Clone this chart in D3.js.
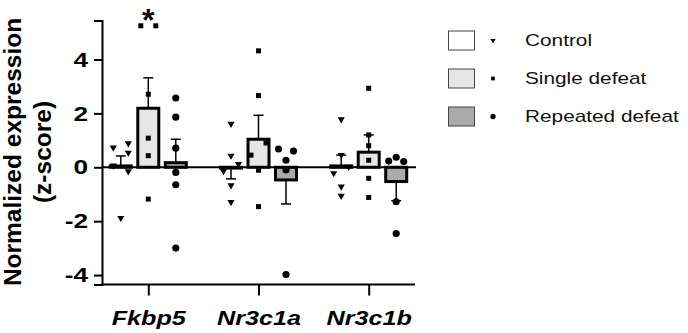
<!DOCTYPE html>
<html>
<head>
<meta charset="utf-8">
<script src="https://cdn.jsdelivr.net/npm/d3@7"></script>
<style>
  body { margin: 0; background: #fff; }
  text { font-family: "Liberation Sans", Arial, Helvetica, sans-serif; }
</style>
</head>
<body>
<svg id="chart" width="688" height="333"></svg>
<script>
// genes on the x axis and the three groups
const genes = ["Fkbp5", "Nr3c1a", "Nr3c1b"];
const groups = ["Control", "Single defeat", "Repeated defeat"];

// bar means (z-score), one row per gene, in group order
const means = [
    [0.05, 2.19, 0.17],
    [-0.03, 1.04, -0.47],
    [0.05, 0.56, -0.53]
];
// SEM for each bar
const sems = [
    [0.37, 1.13, 0.87],
    [0.40, 0.89, 0.89],
    [0.40, 0.64, 0.71]
];

// individual animals, [gene][group] -> values
const points = [
    [
        [0.89, 0.73, 0.54, 0.06, -0.15, -1.88],
        [5.25, 5.25, 2.71, 1.08, 0.43, -1.18],
        [2.57, 1.86, 0.71, -0.19, -0.65, -3.0]
    ],
    [
        [1.61, 0.43, 0.12, -0.14, -0.67, -1.29],
        [4.32, 2.66, 0.90, 0.45, -0.11, -1.46],
        [0.68, 0.60, 0.26, -0.10, -3.98]
    ],
    [
        [1.78, 0.45, 0.02, -0.22, -0.72, -1.06],
        [2.93, 1.20, 0.80, 0.26, -0.41, -1.12],
        [0.23, 0.37, 0.21, -1.28, -2.46]
    ]
];
// scatter column of each animal (-1 left, 0 middle, 1 right)
const slots = [
    [[1, -1, 1, -1, 1, 0], [-1, 1, 0, 0, 0, 0], [0, 0, 0, 0, 0, 0]],
    [[0, 0, 1, -1, 0, 0], [0, 0, 1, -1, 0, 0], [-1, 1, 0, 0, 0]],
    [[0, 0, 1, -1, 0, 0], [0, 0, 0, 0, 0, 0], [-1, 0, 1, 0, 0]]
];

// significance marks
const signif = [{ gene: "Fkbp5", group: "Single defeat", label: "*" }];

const yTicks = [-4, -2, 0, 2, 4];

const fills = ["#ffffff", "#e6e6e6", "#aaaaaa"];
const symbols = [d3.symbolTriangle, d3.symbolSquare, d3.symbolCircle];
const symbolSize = [22, 25, 40];
const legendSize = [12, 14, 22];

const svg = d3.select("#chart");

// scales
const x = d3.scalePoint().domain(genes).range([102, 415]).padding(0.42);
const xg = d3.scalePoint().domain(groups).range([-27.5, 27.5]);
const xj = d3.scaleLinear().domain([-1, 1]).range([-7.5, 7.5]);
const y = d3.scaleLinear().domain([-4.35, 5.45]).range([284.5, 20.4]);
const barW = 21;

// y axis
const yAxis = svg.append("g")
    .attr("transform", "translate(102,0)")
    .call(d3.axisLeft(y).tickValues(yTicks).tickFormat(d => String(d))
        .tickSizeOuter(0).tickSize(8).tickPadding(6));
yAxis.select(".domain").attr("stroke", "#000").attr("stroke-width", 2);
yAxis.selectAll(".tick line").attr("stroke", "#000").attr("stroke-width", 2);
yAxis.selectAll(".tick text")
    .attr("font-size", 21).attr("font-weight", "bold").attr("fill", "#000")
    .attr("transform", "scale(1.25,1)")
    .attr("x", -14 / 1.25);

// x axis
const xAxis = svg.append("g")
    .attr("transform", "translate(0,284.5)")
    .call(d3.axisBottom(x).tickSizeOuter(0).tickSize(11).tickPadding(14));
xAxis.select(".domain").attr("stroke", "#000").attr("stroke-width", 2)
    .attr("d", "M101,0H415");
xAxis.selectAll(".tick line").attr("stroke", "#000").attr("stroke-width", 2);
xAxis.selectAll(".tick text")
    .attr("font-size", 21).attr("font-weight", "bold").attr("font-style", "italic")
    .attr("fill", "#000").attr("dy", "0.72em")
    .attr("transform", "scale(1.2,1)");

// bars
genes.forEach((gene, gi) => {
    const g = svg.append("g");
    groups.forEach((grp, k) => {
        const cx = x(gene) + xg(grp);
        const m = means[gi][k];
        g.append("rect")
            .attr("x", cx - barW / 2)
            .attr("y", Math.min(y(m), y(0)))
            .attr("width", barW)
            .attr("height", Math.abs(y(m) - y(0)))
            .attr("fill", fills[k])
            .attr("stroke", "#000")
            .attr("stroke-width", 3);
    });
});

// zero line
svg.append("line")
    .attr("x1", 102).attr("x2", 416)
    .attr("y1", y(0)).attr("y2", y(0))
    .attr("stroke", "#000").attr("stroke-width", 2.2);

// error bars (one-sided, away from zero)
genes.forEach((gene, gi) => {
    groups.forEach((grp, k) => {
        const cx = x(gene) + xg(grp);
        const m = means[gi][k];
        const tip = m >= 0 ? m + sems[gi][k] : m - sems[gi][k];
        svg.append("line")
            .attr("x1", cx).attr("x2", cx)
            .attr("y1", y(m)).attr("y2", y(tip))
            .attr("stroke", "#000").attr("stroke-width", 1.5);
        svg.append("line")
            .attr("x1", cx - 5).attr("x2", cx + 5)
            .attr("y1", y(tip)).attr("y2", y(tip))
            .attr("stroke", "#000").attr("stroke-width", 1.5);
    });
});

// individual points
genes.forEach((gene, gi) => {
    groups.forEach((grp, k) => {
        const cx = x(gene) + xg(grp);
        points[gi][k].forEach((v, i) => {
            svg.append("path")
                .attr("d", d3.symbol().type(symbols[k]).size(symbolSize[k])())
                .attr("transform", `translate(${cx + xj(slots[gi][k][i])},${y(v)})` + (k === 0 ? " rotate(180)" : ""))
                .attr("fill", "#000");
        });
    });
});

// significance stars
signif.forEach(s => {
    svg.append("text")
        .attr("x", x(s.gene) + xg(s.group))
        .attr("y", 31)
        .attr("text-anchor", "middle")
        .attr("font-size", 32).attr("font-weight", "bold")
        .text(s.label);
});

// y label
const yl = svg.append("text")
    .attr("transform", "translate(0,152) rotate(-90)")
    .attr("text-anchor", "middle")
    .attr("font-size", 24.5).attr("font-weight", "bold");
yl.append("tspan").attr("x", 0).attr("y", 21).text("Normalized expression");
yl.append("tspan").attr("x", 0).attr("y", 51).text("(z-score)");

// legend
const legend = svg.append("g").attr("transform", "translate(448,0)");
groups.forEach((grp, k) => {
    const cy = 40.5 + k * 38;
    legend.append("rect")
        .attr("x", 0.5).attr("y", cy - 9.5)
        .attr("width", 26).attr("height", 19)
        .attr("fill", fills[k])
        .attr("stroke", "#444").attr("stroke-width", 1);
    legend.append("path")
        .attr("d", d3.symbol().type(symbols[k]).size(legendSize[k])())
        .attr("transform", `translate(45,${cy})` + (k === 0 ? " rotate(180)" : ""))
        .attr("fill", "#000");
    legend.append("text")
        .attr("x", 77 / 1.3).attr("y", cy)
        .attr("dy", "0.35em")
        .attr("transform", "scale(1.3,1)")
        .attr("font-size", 16)
        .attr("fill", "#111")
        .text(grp);
});
</script>
</body>
</html>
